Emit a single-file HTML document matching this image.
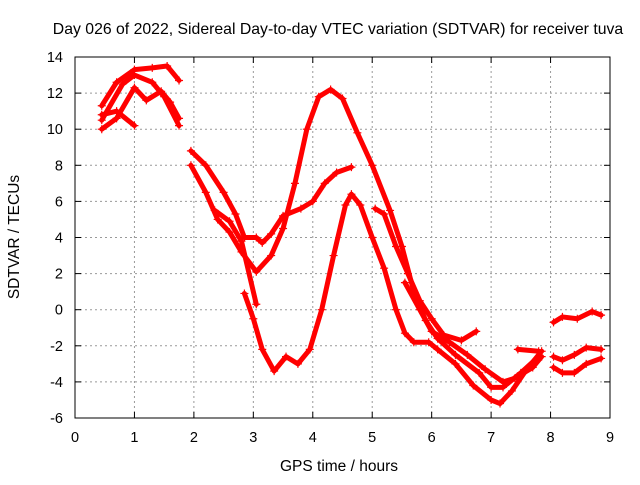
<!DOCTYPE html>
<html><head><meta charset="utf-8"><style>
body{margin:0;background:#fff;}
svg{font-family:"Liberation Sans",sans-serif;}
</style></head><body>
<svg id="chart" width="640" height="480">
<text x="338" y="34" text-anchor="middle" font-size="15.8">Day 026 of 2022, Sidereal Day-to-day VTEC variation (SDTVAR) for receiver tuva</text>
<text x="339" y="471" text-anchor="middle" font-size="15.5">GPS time / hours</text>
<text transform="translate(19,237) rotate(-90)" text-anchor="middle" font-size="15.5">SDTVAR / TECUs</text>
<g id="grid"></g><g id="ticks"></g><g id="series"></g>
<rect x="75" y="57" width="535" height="361" fill="none" stroke="#000" stroke-width="1"/>
</svg>
<script>
const xTicks=[0,1,2,3,4,5,6,7,8,9];
const yTicks=[-6,-4,-2,0,2,4,6,8,10,12,14];
const trackA=[[0.45,11.3],[0.7,12.6],[1.0,13.3],[1.3,13.4],[1.55,13.5],[1.75,12.7]];
const trackB=[[0.45,10.5],[0.8,12.5],[1.0,13],[1.3,12.6],[1.5,11.8],[1.75,10.2]];
const trackC=[[0.45,10],[0.7,10.6],[1.0,12.3],[1.2,11.6],[1.45,12.1],[1.6,11.5],[1.75,10.6]];
const trackD=[[0.45,10.8],[0.7,11.0],[1.0,10.2]];
const trackE=[[1.95,8.8],[2.2,8],[2.5,6.5],[2.7,5.3],[2.85,4.0],[3.05,4.0],[3.15,3.7],[3.3,4.2],[3.5,5.2],[3.8,5.6],[4.0,6.0],[4.2,7.0],[4.4,7.6],[4.65,7.9]];
const trackF=[[1.95,8.0],[2.2,6.5],[2.4,5],[2.6,4.3],[2.8,3.2],[3.05,2.1],[3.3,3.0],[3.5,4.5],[3.7,7.0],[3.9,10],[4.1,11.8],[4.3,12.2],[4.5,11.7],[4.75,9.8],[5.0,8],[5.3,5.5],[5.5,3.5],[5.7,1],[5.9,-0.6],[6.1,-1.6],[6.4,-2.5],[6.8,-3.5],[7.0,-4.3],[7.2,-4.3],[7.5,-3.5],[7.8,-2.6]];
const trackG=[[2.35,5.5],[2.6,4.9],[2.8,3.8],[3.05,0.3]];
const trackH=[[2.85,0.9],[3.0,-0.5],[3.15,-2.2],[3.35,-3.4],[3.55,-2.6],[3.75,-3.0],[3.95,-2.2],[4.15,0],[4.35,3.0],[4.55,5.8],[4.65,6.4],[4.8,5.8],[5.0,4.0],[5.2,2.3],[5.4,0],[5.55,-1.3],[5.7,-1.8],[5.95,-1.8],[6.1,-2.2],[6.4,-3.0],[6.7,-4.2],[7.0,-5.0],[7.15,-5.2],[7.35,-4.5],[7.6,-3.3],[7.85,-2.3]];
const trackI=[[5.05,5.6],[5.2,5.3],[5.4,3.5],[5.6,2],[5.8,0.5],[6.0,-0.5],[6.2,-1.4],[6.5,-1.7],[6.75,-1.2]];
const trackJ=[[5.55,1.5],[5.8,0],[6.0,-1.2],[6.3,-1.8],[6.6,-2.5],[6.9,-3.3],[7.2,-4],[7.4,-3.8],[7.7,-3.2],[7.85,-2.6]];
const trackJ2=[[7.45,-2.2],[7.8,-2.3]];
const trackK=[[8.05,-0.7],[8.2,-0.4],[8.45,-0.5],[8.7,-0.1],[8.85,-0.3]];
const trackL=[[8.05,-2.6],[8.2,-2.8],[8.4,-2.5],[8.6,-2.1],[8.85,-2.2]];
const trackM=[[8.05,-3.2],[8.2,-3.5],[8.4,-3.5],[8.6,-3.0],[8.85,-2.7]];
const tracks=[trackA,trackB,trackC,trackD,trackE,trackF,trackG,trackH,trackI,trackJ,trackJ2,trackK,trackL,trackM];

const NS="http://www.w3.org/2000/svg";
const X0=75,X1=610,Y0=418,Y1=57;
function xs(v){return X0+(v-0)/(9-0)*(X1-X0);}
function ys(v){return Y0-(v+6)/(20)*(Y0-Y1);}
const grid=document.getElementById('grid'),ticks=document.getElementById('ticks'),ser=document.getElementById('series');
function mk(tag,attrs,parent){const e=document.createElementNS(NS,tag);for(const k in attrs)e.setAttribute(k,attrs[k]);parent.appendChild(e);return e;}
xTicks.forEach(t=>{
  const x=xs(t);
  if(t>0&&t<9){const g=mk('line',{x1:x,x2:x,y1:Y0,y2:Y1,stroke:'#999','stroke-dasharray':'2,3'},grid);
  
  }
  mk('line',{x1:x,x2:x,y1:Y0,y2:Y0-6,stroke:'#000'},ticks);
  mk('line',{x1:x,x2:x,y1:Y1,y2:Y1+6,stroke:'#000'},ticks);
  const l=mk('text',{x:x,y:Y0+24,'text-anchor':'middle','font-size':'14.5'},ticks);
  l.textContent=t;
  
  
});
yTicks.forEach(t=>{
  const y=ys(t);
  if(t>-6&&t<14){const g=mk('line',{x1:X0,x2:X1,y1:y,y2:y,stroke:'#999','stroke-dasharray':'2,3'},grid);
  
  }
  mk('line',{x1:X0,x2:X0+6,y1:y,y2:y,stroke:'#000'},ticks);
  mk('line',{x1:X1,x2:X1-6,y1:y,y2:y,stroke:'#000'},ticks);
  const l=mk('text',{x:X0-12,y:y+5,'text-anchor':'end','font-size':'14.5'},ticks);
  l.textContent=t;
  
  
});
tracks.forEach((tr,i)=>{
  const pts=tr.map(p=>xs(p[0])+','+ys(p[1])).join(' ');
  const pl=mk('polyline',{points:pts,fill:'none',stroke:'#f00','stroke-width':5,'stroke-linejoin':'round','stroke-linecap':'round'},ser);
  
  
  tr.forEach(p=>{
    const x=xs(p[0]),y=ys(p[1]);
    const m=mk('path',{d:`M${x-4},${y}H${x+4}M${x},${y-4}V${y+4}`,stroke:'#f00','stroke-width':1.2},ser);
    
    
  });
});
</script>
</body></html>
